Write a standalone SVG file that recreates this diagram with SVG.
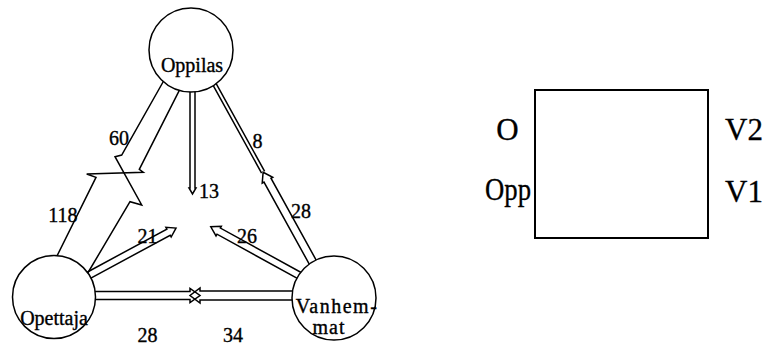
<svg xmlns="http://www.w3.org/2000/svg" width="764" height="347" viewBox="0 0 764 347">
  <style>
    .flow { fill: none; stroke: #000; stroke-width: 1.5; stroke-linejoin: miter; }
    .node { fill: #fff; stroke: #000; stroke-width: 1.5; }
    .name { font-family: "Liberation Serif", "Times New Roman", serif; font-size: 20px; fill: #000; stroke: #000; stroke-width: 0.35; text-anchor: middle; }
    .count { font-family: "Liberation Serif", "Times New Roman", serif; font-size: 20px; fill: #000; stroke: #000; stroke-width: 0.35; text-anchor: middle; }
    .key { font-family: "Liberation Serif", "Times New Roman", serif; font-size: 31px; fill: #000; stroke: #000; stroke-width: 0.3; }
    .frame { fill: #fff; stroke: #000; stroke-width: 2; }
  </style>

  <!-- flows between the three parties; circles are drawn on top so the shafts tuck under them -->
  <g id="connectors">
    <!-- Oppilas <-> Opettaja: two broad arrows whose heads meet half way -->
    <path class="flow" d="M167,75 L121.7,155 L115,156.7 L141.7,205 L130,201.7 L86,276"/>
    <path class="flow" d="M181.6,85.9 L139.3,169.3 L143.3,172.3 L86.7,174 L96,177.3 L54,262"/>

    <!-- Oppilas -> centre (13) -->
    <path class="flow" d="M190,85 V188 L189,188 L192.5,194 L196,188 L195,188 V85"/>

    <!-- Vanhemmat -> Oppilas (28) and the thin Oppilas -> Vanhemmat shaft (8) -->
    <g transform="translate(315.8,267.7) rotate(-118.9)">
      <path class="flow" d="M0,-4 H100 V-6 L109,0 L100,6 V4 H0"/>
      <path class="flow" d="M109,-1.75 H215 M109,1.75 H215"/>
    </g>

    <!-- Vanhemmat -> centre (26) -->
    <g transform="translate(306.3,279.3) rotate(-151.2)">
      <path class="flow" d="M0,-3.5 H100 V-5.5 L109,0 L100,5.5 V3.5 H0"/>
    </g>

    <!-- Opettaja -> centre (21) -->
    <g transform="translate(83.2,278.3) rotate(-28.4)">
      <path class="flow" d="M0,-3.5 H97 V-5.5 L105.5,0 L97,5.5 V3.5 H0"/>
    </g>

    <!-- Opettaja <-> Vanhemmat: heads cross in the middle -->
    <path class="flow" d="M88,291.5 H190 V288.5 L200,295.5 L190,302.5 V299.5 H88"/>
    <path class="flow" d="M300,291 H200 V288 L190,295.5 L200,303 V300 H300"/>
  </g>

  <g id="node-oppilas">
    <circle class="node" cx="191" cy="50" r="42"/>
    <text class="name" x="192" y="72">Oppilas</text>
  </g>

  <g id="node-opettaja">
    <circle class="node" cx="54" cy="297" r="41.5"/>
    <text class="name" x="54" y="325">Opettaja</text>
  </g>

  <g id="node-vanhemmat">
    <circle class="node" cx="334" cy="298" r="42"/>
    <text class="name" x="337" y="313" font-size="18" letter-spacing="1.5">Vanhem-</text>
    <text class="name" x="329" y="334" font-size="18" letter-spacing="1">mat</text>
  </g>

  <!-- flow counts -->
  <g id="counts">
    <text class="count" x="119" y="145">60</text>
    <text class="count" x="63" y="222">118</text>
    <text class="count" x="209" y="198">13</text>
    <text class="count" x="257.5" y="148">8</text>
    <text class="count" x="301" y="218">28</text>
    <text class="count" x="147.5" y="243">21</text>
    <text class="count" x="247" y="243">26</text>
    <text class="count" x="147.5" y="342">28</text>
    <text class="count" x="233" y="342">34</text>
  </g>

  <!-- key box -->
  <g id="key">
    <rect class="frame" x="535" y="90" width="173" height="148"/>
    <text class="key" x="507.5" y="140" text-anchor="middle">O</text>
    <text class="key" x="485" y="200" textLength="46" lengthAdjust="spacingAndGlyphs">Opp</text>
    <text class="key" x="725" y="140">V2</text>
    <text class="key" x="725" y="202">V1</text>
  </g>
</svg>
